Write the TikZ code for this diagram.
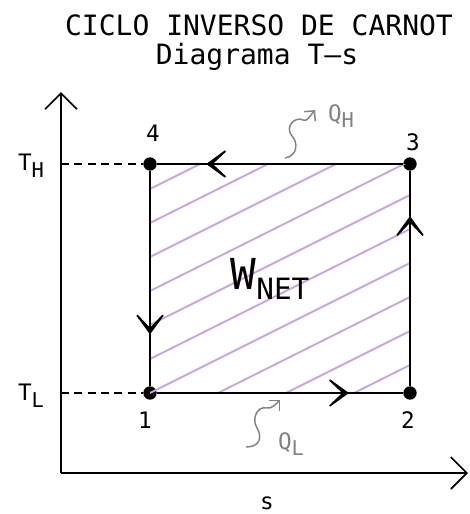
\documentclass[tikz,border=0pt]{standalone}
\usepackage{fontspec}
\setmainfont{DejaVu Sans Mono}
\usetikzlibrary{positioning,arrows.meta,decorations.markings}
\definecolor{hatchpurple}{RGB}{200,165,225}
\definecolor{heatgray}{RGB}{130,130,130}
\newcommand{\lowsub}[2]{#1\raisebox{-0.55ex}{\scalebox{0.9}{#2}}}

\begin{document}
\begin{tikzpicture}[
    x=0.75pt, y=-0.75pt,
    every node/.style={font=\fontsize{17}{19}\selectfont, inner sep=0pt},
    pt/.style={circle, fill, minimum size=10pt},
    axis/.style={line width=1.5pt, -{Straight Barb[length=12pt, width=24pt, line width=1.2pt]}},
    edge/.style={line width=1.5pt},
    flowarr/.style={postaction=decorate, decoration={markings,
        mark=at position #1 with {\arrow{Stealth[length=22pt, width=32pt, inset=17pt]}}}},
    guide/.style={line width=1.2pt, dash pattern=on 6pt off 4pt},
    hatch/.style={hatchpurple, line width=1.4pt},
    heat/.style={heatgray, line width=1.1pt, -{Straight Barb[length=5.5pt, width=11pt, line width=1.1pt]}}
]
\useasboundingbox (0,0) rectangle (469,514);

% titles
\node (title) at (259,25) {\fontsize{21}{24}\selectfont CICLO INVERSO DE CARNOT};
\node (subtitle) at (257,57) {\fontsize{21}{24}\selectfont Diagrama T–s};

% cycle corners
\node[pt] (p1) at (150,393) {};
\node[pt] (p2) at (410,393) {};
\node[pt] (p3) at (410,164) {};
\node[pt] (p4) at (150,164) {};

% hatched work area
\begin{scope}
  \clip (150,164) rectangle (410,393);
  \foreach \k in {-8,...,3}
    \draw[hatch] (150+68*\k,393) -- ++(700,-350);
\end{scope}

% axes
\coordinate (origin) at (61,473);
\coordinate (tend) at (61,92);
\coordinate (send) at (468,473);
\draw[axis] (origin) -- (tend);
\draw[axis] (origin) -- (send);

% temperature guides
\draw[guide] (origin |- p4) -- (p4);
\draw[guide] (origin |- p1) -- (p1);

% cycle
\draw[edge, flowarr=0.78] (p1) -- (p2);
\draw[edge, flowarr=0.79] (p2) -- (p3);
\draw[edge, flowarr=0.8] (p3) -- (p4);
\draw[edge, flowarr=0.76] (p4) -- (p1);

% labels
\node (n4) at (153,133) {4};
\node (n3) at (413,142) {3};
\node (n1) at (145,420) {1};
\node (n2) at (408,420) {2};
\node (lblTH) at (31,166) {\lowsub{T}{H}};
\node (lblTL) at (31,396) {\lowsub{T}{L}};
\node (lbls) at (267,503) {s};
\node (wnet) at (270,279) {\fontsize{32}{34}\selectfont W\raisebox{-7pt}{\fontsize{22}{24}\selectfont NET}};

% heat flows
\node[text=heatgray] (qh) at (341,116) {\lowsub{Q}{H}};
\node[text=heatgray] (ql) at (291,444) {\lowsub{Q}{L}};
\coordinate (qhfrom) at (285,158);
\coordinate (qhto) at (315,110);
\coordinate (qlfrom) at (246,447);
\coordinate (qlto) at (280,400);
\draw[heat] (qhfrom) .. controls (298,156) and (298,142) .. (292,136)
  .. controls (284,126) and (296,116) .. (303,120)
  .. controls (307,122) and (310,116) .. (qhto);
\draw[heat] (qlfrom) .. controls (259,447) and (263,438) .. (257,428)
  .. controls (251,418) and (258,406) .. (266,408)
  .. controls (272,409) and (276,404) .. (qlto);
\end{tikzpicture}
\end{document}
